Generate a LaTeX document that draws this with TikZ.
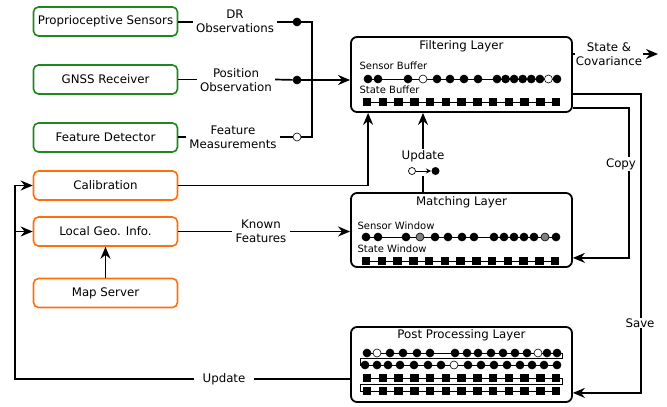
\documentclass[tikz,border=0pt]{standalone}
\usepackage{fontspec}
\setmainfont{DejaVu Sans}
\usepackage{tikz}
\usepackage{xcolor}
\usetikzlibrary{arrows.meta}
\definecolor{sensorgreen}{RGB}{30,135,30}
\definecolor{mapvorange}{RGB}{255,110,10}
\tikzset{
    main-font/.style = {font=\fontsize{11.8}{13.8}\selectfont},
    small-font/.style = {font=\fontsize{10}{11}\selectfont},
    source-box/.style = {rectangle, rounded corners=5pt, line width=1.6pt, fill=white, minimum width=144pt, minimum height=29pt, inner sep=0pt, main-font},
    sensor-box/.style = {source-box, draw=sensorgreen},
    map-box/.style = {source-box, draw=mapvorange},
    layer-box/.style = {draw, rectangle, rounded corners=6pt, line width=1.8pt, minimum width=221pt, minimum height=75pt, inner sep=0pt},
    flow-label/.style = {fill=white, align=center, inner xsep=3pt, inner ysep=1pt, main-font},
    flow/.style = {line width=1.7pt},
    flow-arrow/.style = {flow, -{Stealth[length=12pt,width=10pt]}},
    dot/.style = {circle, fill=black, draw=black, line width=0.6pt, inner sep=0pt, minimum size=8pt},
    open-dot/.style = {dot, fill=white},
    gray-dot/.style = {dot, fill=gray},
    state-sq/.style = {rectangle, fill=black, inner sep=0pt, minimum size=8.5pt},
    row-line/.style = {line width=0.7pt},
}

\begin{document}
\begin{tikzpicture}[x=1pt, y=-1pt]
\useasboundingbox (0,0) rectangle (667,407);

% sources
\node[sensor-box] (proprio) at (105.5,21.5) {Proprioceptive Sensors};
\node[sensor-box] (gnss) at (105.5,79.5) {GNSS Receiver};
\node[sensor-box] (featdet) at (105.5,137.5) {Feature Detector};
\node[map-box] (calib) at (105.5,185.5) {Calibration};
\node[map-box] (localgeo) at (105.5,231.5) {Local Geo. Info.};
\node[map-box] (mapsrv) at (105.5,293) {Map Server};

% layers
\node[layer-box] (filtering) at (461.5,74.5) {};
\node[main-font] (filtering-title) at (461.5,46) {Filtering Layer};
\node[small-font, anchor=west] (sbuf-lbl) at (356,66) {Sensor Buffer};
\node[small-font, anchor=west] (stbuf-lbl) at (356,90) {State Buffer};

\node[layer-box, minimum height=74pt] (matching) at (461.5,230) {};
\node[main-font] (matching-title) at (461.5,202) {Matching Layer};
\node[small-font, anchor=west] (swin-lbl) at (354,226) {Sensor Window};
\node[small-font, anchor=west] (stwin-lbl) at (354,249) {State Window};

\node[layer-box] (post) at (461.5,364.5) {};
\node[main-font] (post-title) at (461.5,335) {Post Processing Layer};

% sensor buffer
\draw[row-line] (368,79) -- (557,79);
\foreach \x in {368,378,408,437,450,464,478,497,505.6,514.1,522.7,531.3,539.9,557}
    \node[dot] at (\x,79) {};
\foreach \x in {423,548.4}
    \node[open-dot] at (\x,79) {};
% state buffer
\draw[row-line] (367,102) -- (556,102);
\foreach \i in {0,...,12}
    \node[state-sq] at (367+15.75*\i,102) {};

% sensor window
\draw[row-line] (366,237) -- (556,237);
\foreach \x in {366,378,406,435,448,462,474,494,504,514,524,534,556}
    \node[dot] at (\x,237) {};
\foreach \x in {420,545}
    \node[gray-dot] at (\x,237) {};
% state window
\draw[row-line] (366,261) -- (556,261);
\foreach \i in {0,...,12}
    \node[state-sq] at (366+15.75*\i,261) {};

% post processing rows
\draw[row-line] (367,353) -- (562,353) -- (562,358.5) -- (360,358.5) -- (360,365) -- (557,365);
\foreach \x in {367,390,403,417,430,455,467,478,491,503,515,527,547,557}
    \node[dot] at (\x,353) {};
\foreach \x in {377,538}
    \node[open-dot] at (\x,353) {};
\foreach \x in {365,377,388,400,414,428,441,468,481,494,507,520,532,544,557}
    \node[dot] at (\x,365) {};
\node[open-dot] at (454,365) {};
\draw[row-line] (367,378) -- (562,378) -- (562,384.5) -- (360,384.5) -- (360,391) -- (556,391);
\foreach \i in {0,...,12} {
    \node[state-sq] at (367+15.75*\i,378) {};
    \node[state-sq] at (367+15.75*\i,391) {};
}

% observations into the filter
\node[flow-label] (dr-lbl) at (235,21) {DR\\Observations};
\node[flow-label] (pos-lbl) at (236,80) {Position\\Observation};
\node[flow-label] (fm-lbl) at (233,137) {Feature\\Measurements};
\node[dot] (dr-dot) at (297,22) {};
\node[dot] (pos-dot) at (297,80) {};
\node[open-dot] (fm-dot) at (297,137) {};
\coordinate (merge) at (312,80);
\draw[flow] (proprio.east |- dr-dot) -- (dr-lbl.west |- dr-dot);
\draw[flow] (dr-lbl.east |- dr-dot) -- (dr-dot);
\draw[flow] (gnss.east) -- (pos-lbl.west |- gnss.east);
\draw[flow] (pos-lbl.east |- gnss.east) -- (pos-dot);
\draw[flow] (featdet.east |- fm-dot) -- (fm-lbl.west |- fm-dot);
\draw[flow] (fm-lbl.east |- fm-dot) -- (fm-dot);
\draw[flow] (dr-dot) -- (merge |- dr-dot) -- (merge |- fm-dot) -- (fm-dot);
\draw[flow-arrow] (pos-dot) -- (pos-dot -| filtering.west);

% calibration
\draw[flow-arrow] (calib.east) -| ([xshift=18pt]filtering.south west);

% known features
\node[flow-label] (kf-lbl) at (261,231) {Known\\Features};
\draw[flow] (localgeo.east) -- (kf-lbl.west |- localgeo.east);
\draw[flow-arrow] (kf-lbl.east |- localgeo.east) -- (localgeo.east -| matching.west);
\draw[flow-arrow] (mapsrv.north) -- (localgeo.south);

% update from matching
\node[main-font, inner sep=1pt] (upd) at (423,156) {Update};
\node[inner sep=0pt, minimum width=32pt, minimum height=10pt] (upd-mark) at (423,171) {};
\draw[flow] (upd-mark.south) -- (upd-mark.south |- matching.north);
\draw[flow-arrow] (upd.north) -- (upd.north |- filtering.south);
\draw[line width=0.7pt, fill=white] ([xshift=-11pt]upd-mark.center) circle (3.5pt);
\draw[line width=0.9pt, -{Stealth[length=5pt,width=5pt]}] ([xshift=-7pt]upd-mark.center) -- ([xshift=8pt]upd-mark.center);
\fill ([xshift=12.5pt]upd-mark.center) circle (4pt);

% state and covariance out
\node[flow-label, inner xsep=1pt] (sc-lbl) at (609,54) {State \&\\Covariance};
\coordinate (sc-out) at (658,54);
\draw[flow] (sc-lbl.west -| filtering.east) -- (sc-lbl.west);
\draw[flow-arrow] (sc-lbl.east) -- (sc-out);

% copy to matching
\coordinate (copy-out) at ([yshift=5pt]filtering.south east);
\coordinate (copy-in) at ([yshift=10pt]matching.south east);
\coordinate (copy-x) at (629,0);
\draw[flow-arrow] (copy-out) -| (copy-x |- copy-in) -- (copy-in);
\node[flow-label] (copy-lbl) at (621,164) {Copy};

% save to post processing
\coordinate (save-out) at ([yshift=19pt]filtering.south east);
\coordinate (save-in) at ([yshift=10pt]post.south east);
\coordinate (save-x) at (641,0);
\draw[flow-arrow] (save-out) -| (save-x |- save-in) -- (save-in);
\node[flow-label] (save-lbl) at (640,323) {Save};

% update back to map side
\coordinate (upd-out) at ([yshift=-14.5pt]post.west);
\coordinate (left-bus) at (15,0);
\node[flow-label, inner xsep=8pt] (upd2-lbl) at (224,379) {Update};
\draw[flow] (upd-out) -- (upd2-lbl.east |- upd-out);
\draw[flow-arrow] (upd2-lbl.west |- upd-out) -| (left-bus |- calib.west) -- (calib.west);
\draw[flow-arrow] (left-bus |- localgeo.west) -- (localgeo.west);
\end{tikzpicture}
\end{document}
